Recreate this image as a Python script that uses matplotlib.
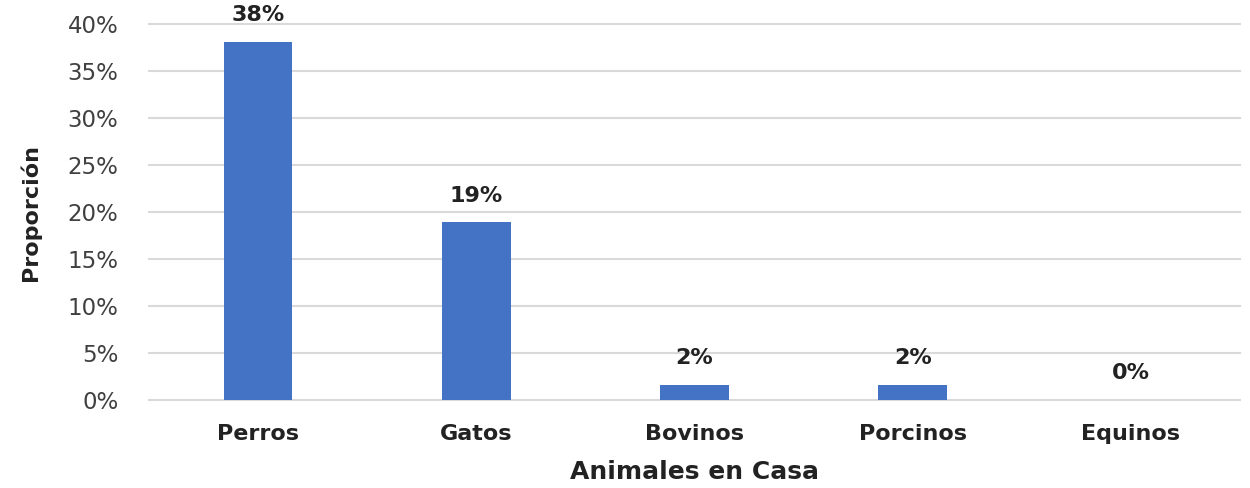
import matplotlib
matplotlib.use("Agg")
import matplotlib.pyplot as plt
from matplotlib.ticker import FuncFormatter, MultipleLocator

categories = ["Perros", "Gatos", "Bovinos", "Porcinos", "Equinos"]
values = [38.1, 18.9, 1.6, 1.6, 0.0]
labels = ["38%", "19%", "2%", "2%", "0%"]

plt.rcParams['font.family'] = ['DejaVu Sans']

fig = plt.figure(figsize=(12.5, 4.88), dpi=100)
ax = fig.add_axes([0.1192, 0.1803, 0.8728, 0.7705])

x = list(range(len(categories)))
bars = ax.bar(x, values, width=0.315, color="#4472C4", zorder=3)

ax.set_xlim(-0.5, len(categories) - 0.5)
ax.set_ylim(0, 40)
ax.yaxis.set_major_locator(MultipleLocator(5))
ax.yaxis.set_major_formatter(FuncFormatter(lambda v, p: f"{int(round(v))}%"))
ax.grid(axis="y", color="#d9d9d9", linewidth=1.5, zorder=0)
for gl in ax.get_ygridlines():
    gl.set_clip_on(False)
for s in ax.spines.values():
    s.set_visible(False)
ax.tick_params(axis="both", length=0)
ax.tick_params(axis="y", labelsize=16.5, colors="#404040", pad=22)
ax.set_xticks(x)
ax.set_xticklabels(categories, fontsize=16, fontweight="bold", color="#222222")
ax.tick_params(axis="x", pad=17)

for xi, v, lab in zip(x, values, labels):
    ax.annotate(lab, (xi, v), xytext=(0, 12), textcoords="offset points",
                ha="center", va="bottom", fontsize=16, fontweight="bold", color="#222222")

ax.set_xlabel("Animales en Casa", fontsize=18, fontweight="bold", color="#222222", labelpad=12)
ax.set_ylabel("Proporción", fontsize=16, fontweight="bold", color="#222222", labelpad=19)

fig.savefig("out.png", dpi=100)
